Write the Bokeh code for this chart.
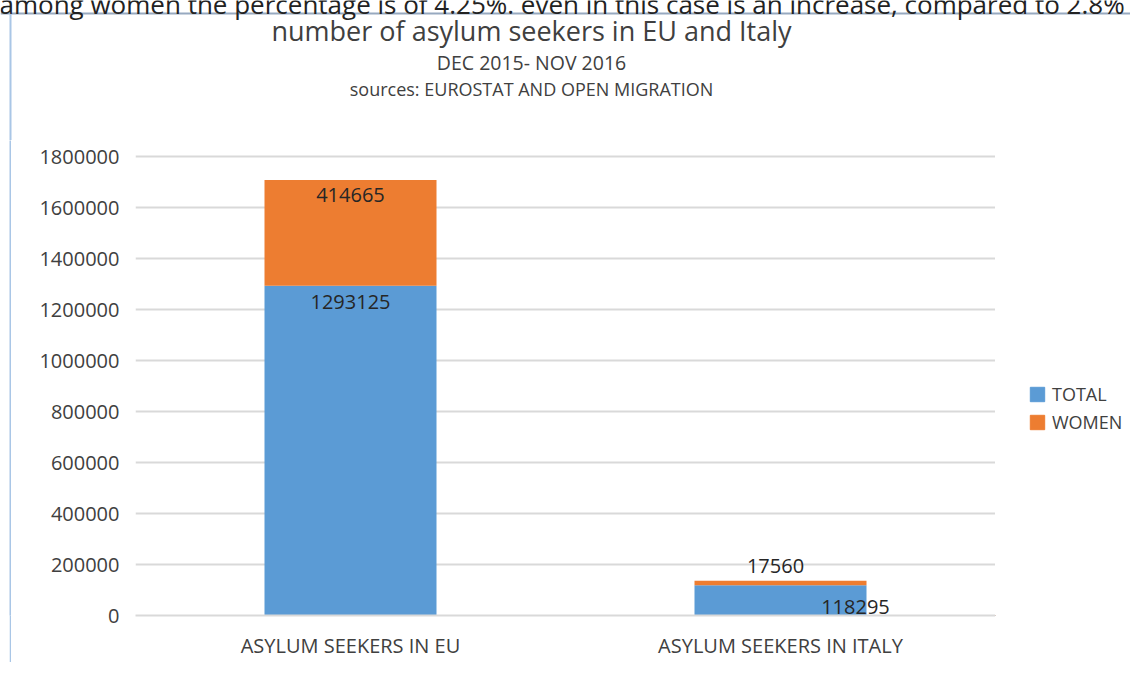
from bokeh.plotting import figure
from bokeh.layouts import column, row
from bokeh.models import (ColumnDataSource, LabelSet, Label, Span, Spacer,
                          Legend, FixedTicker, NumeralTickFormatter, Range1d)
from bokeh.core.properties import value
from bokeh.embed import file_html
from bokeh.resources import INLINE

# ---- data ----
categories = ["ASYLUM SEEKERS IN EU", "ASYLUM SEEKERS IN ITALY"]
total = [1293125, 118295]
women = [414665, 17560]
series_names = ["TOTAL", "WOMEN"]
y_ticks = [0, 200000, 400000, 600000, 800000, 1000000, 1200000, 1400000, 1600000, 1800000]
chart_title = "number of asylum seekers in EU and Italy"
subtitle_1 = "DEC 2015- NOV 2016"
subtitle_2 = "sources: EUROSTAT AND OPEN MIGRATION"
page_text = "among women the percentage is of 4.25%. even in this case is an increase, compared to 2.8% last year"

# ---- styles ----
FONT = "Open Sans"
BLUE = "#5B9BD5"
ORANGE = "#ED7D31"
TXT = "#404040"
EDGE = "#A9C6E6"

W, H = 1130, 662
HEAD_H = 140
FRAME_L, FRAME_R, FRAME_B = 135, 995, 615
GRID_TOP_PX = 156           # pixel row of the highest gridline
BODY_H = H - HEAD_H
BOTTOM_BORDER = H - FRAME_B
FRAME_H = BODY_H - BOTTOM_BORDER

# ---------- header (titles) ----------
head = figure(width=W, height=HEAD_H, x_range=Range1d(0, W), y_range=Range1d(HEAD_H, 0),
              output_backend="svg", toolbar_location=None,
              x_axis_type=None, y_axis_type=None, min_border=0)
head.outline_line_color = None
head.grid.grid_line_color = None
head.add_layout(Span(location=13, dimension="width", line_color="#97A9C0", line_width=2))
head.add_layout(Span(location=10, dimension="height", line_color=EDGE, line_width=2))
head.add_layout(Label(x=-1, y=3, text=page_text, text_align="left",
                      text_baseline="alphabetic", text_font=FONT,
                      text_font_size="26px", text_color="#222222"))
head.add_layout(Label(x=531, y=30, text=chart_title, text_align="center",
                      text_baseline="middle", text_font=FONT,
                      text_font_size="27px", text_color=TXT))
head.add_layout(Label(x=531, y=62, text=subtitle_1, text_align="center",
                      text_baseline="middle", text_font=FONT,
                      text_font_size="19.5px", text_color=TXT))
head.add_layout(Label(x=531, y=88, text=subtitle_2, text_align="center",
                      text_baseline="middle", text_font=FONT,
                      text_font_size="18px", text_color=TXT))

# ---------- left edge of the screenshot container ----------
edge = figure(width=2, height=BODY_H, x_range=Range1d(0, 1), y_range=Range1d(0, 1),
              output_backend="svg", toolbar_location=None,
              x_axis_type=None, y_axis_type=None, min_border=0)
edge.outline_line_color = None
edge.grid.grid_line_color = None
edge.background_fill_color = EDGE
edge.border_fill_color = EDGE
pad_left = Spacer(width=9, height=BODY_H)
GAP = 9 + 2

# ---------- chart ----------
y_top = y_ticks[-1] * FRAME_H / (FRAME_B - GRID_TOP_PX)
p = figure(x_range=categories, y_range=Range1d(0, y_top),
           width=FRAME_R - GAP, height=BODY_H, output_backend="svg",
           toolbar_location=None,
           min_border_left=FRAME_L - GAP, min_border_right=0, min_border_top=0,
           min_border_bottom=BOTTOM_BORDER)
p.outline_line_color = None

src = ColumnDataSource(dict(cat=categories, total=total, women=women))
rs = p.vbar_stack(["total", "women"], x="cat", width=0.4, color=[BLUE, ORANGE],
                  line_color=None, source=src)

p.yaxis.ticker = FixedTicker(ticks=y_ticks)
p.yaxis.formatter = NumeralTickFormatter(format="0")
p.yaxis.axis_line_color = None
p.yaxis.major_tick_line_color = None
p.yaxis.minor_tick_line_color = None
p.yaxis.major_tick_out = 0
p.yaxis.major_label_standoff = 16
p.yaxis.major_label_text_font = FONT
p.yaxis.major_label_text_font_size = "20px"
p.yaxis.major_label_text_color = TXT

p.xaxis.axis_line_color = "#D9D9D9"
p.xaxis.axis_line_width = 2
p.xaxis.major_tick_line_color = None
p.xaxis.minor_tick_line_color = None
p.xaxis.major_tick_out = 0
p.xaxis.major_label_standoff = 16
p.xaxis.major_label_text_font = FONT
p.xaxis.major_label_text_font_size = "20px"
p.xaxis.major_label_text_color = TXT

p.xgrid.grid_line_color = None
p.ygrid.grid_line_color = "#D9D9D9"
p.ygrid.grid_line_width = 2

# data labels
lab_x = [categories[0], categories[0], categories[1], categories[1]]
lab_y = [total[0] + women[0], total[0], total[1] + women[1], total[1]]
lab_t = [str(women[0]), str(total[0]), str(women[1]), str(total[1])]
lab_dx = [0, 0, -5, 75]
lab_dy = [-15, -16, 15, -22]
lsrc = ColumnDataSource(dict(x=lab_x, y=lab_y, t=lab_t, dx=lab_dx, dy=lab_dy))
p.add_layout(LabelSet(x="x", y="y", text="t", x_offset="dx", y_offset="dy",
                      source=lsrc, text_align="center", text_baseline="middle",
                      text_font=value(FONT), text_font_size="20px",
                      text_color="#262626"))

# ---------- legend area (its frame is aligned with the chart's frame) ----------
LEG_W = W - FRAME_R
leg = figure(width=LEG_W, height=BODY_H, x_range=Range1d(0, LEG_W),
             y_range=Range1d(0, FRAME_H), output_backend="svg", toolbar_location=None,
             x_axis_type=None, y_axis_type=None, min_border=0)
leg.outline_line_color = None
leg.grid.grid_line_color = None
# key glyphs for the legend only, placed outside the visible range
key_src = ColumnDataSource(dict(x=[-1000], top=[0]))
r_total = leg.vbar(x="x", top="top", width=1, color=BLUE, source=key_src)
r_women = leg.vbar(x="x", top="top", width=1, color=ORANGE, source=key_src)
legend = Legend(items=[(series_names[0], [r_total]), (series_names[1], [r_women])],
                location=(33, 181), orientation="vertical",
                glyph_width=18, glyph_height=18, label_standoff=6, spacing=4,
                padding=0, margin=0, border_line_color=None,
                background_fill_alpha=0,
                label_text_font=FONT, label_text_font_size="18px",
                label_text_color=TXT)
leg.add_layout(legend)

layout = column(head, row(pad_left, edge, p, leg, spacing=0), spacing=0)
open("out.html", "w").write(file_html(layout, INLINE))
